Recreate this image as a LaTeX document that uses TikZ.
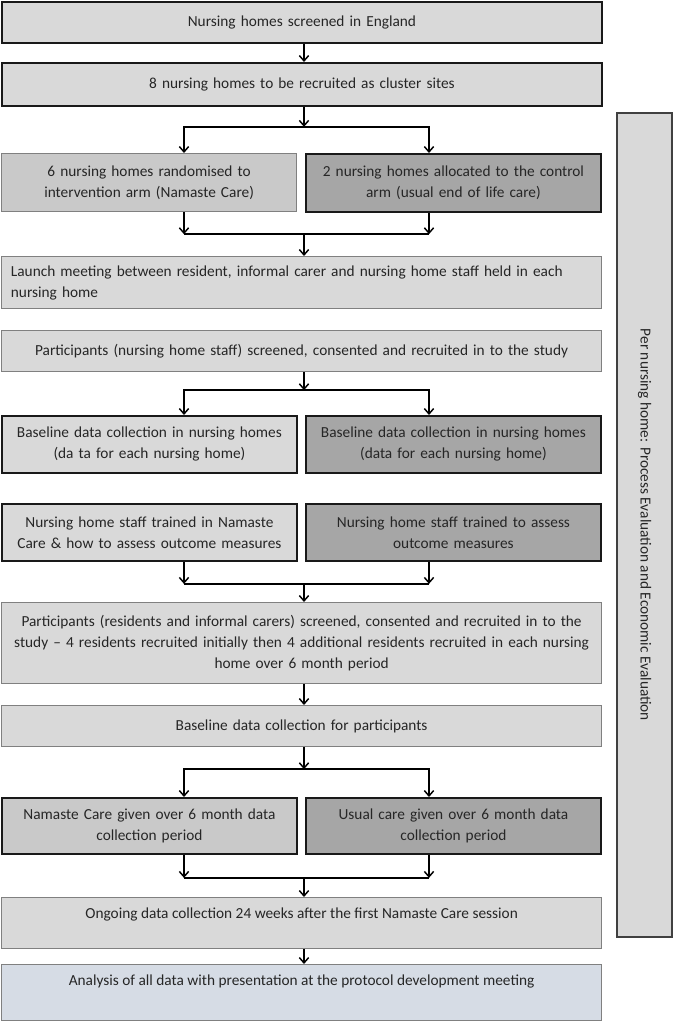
\documentclass[tikz,border=0pt]{standalone}
\usepackage{fontspec}
\setmainfont{Carlito}
\usetikzlibrary{arrows.meta}
\definecolor{LightClr}{HTML}{D9D9D9}
\definecolor{MidClr}{HTML}{C9C9C9}
\definecolor{DarkClr}{HTML}{A6A6A6}
\definecolor{BlueClr}{HTML}{D6DCE5}
\definecolor{EdgeClr}{HTML}{808080}
\definecolor{TextClr}{HTML}{262626}

\begin{document}
\begin{tikzpicture}[x=0.75pt,y=-0.75pt,
  every node/.style={font=\fontsize{11.5}{15.75}\selectfont,text=TextClr},
  box/.style={draw=EdgeClr,line width=0.9pt,fill=LightClr,anchor=north west,inner xsep=2pt,align=center},
  full/.style={box,minimum width=450pt,text width=444pt},
  half/.style={box,minimum width=221.25pt,text width=215pt},
  bold/.style={draw=black!90,line width=1.4pt},
  arr/.style={line width=1.1pt,-{Straight Barb[length=4pt,width=7pt]}},
  link/.style={line width=1.1pt}]
\useasboundingbox (0,0) rectangle (674,1023);

\coordinate (colL) at (184,0);
\coordinate (colM) at (304,0);
\coordinate (colR) at (429,0);

\node[full,bold,minimum height=30.75pt] (screen) at (1,1) {Nursing homes screened in England};
\node[full,bold,minimum height=32.25pt] (recruit) at (1,62) {8 nursing homes to be recruited as cluster sites};

\node[half,fill=MidClr,minimum height=43.5pt] (randL) at (1,153) {6 nursing homes randomised to\\intervention arm (Namaste Care)};
\node[half,bold,fill=DarkClr,minimum height=43.5pt] (randR) at (305,153) {2 nursing homes allocated to the control\\arm (usual end of life care)};

\node[full,text width=436pt,align=left,minimum height=39pt] (launch) at (1,256) {Launch meeting between resident, informal carer and nursing home staff held in each\\nursing home};
\node[full,minimum height=30.75pt] (staff) at (1,330) {Participants (nursing home staff) screened, consented and recruited in to the study};

\node[half,bold,minimum height=42.75pt] (baseL) at (1,415) {Baseline data collection in nursing homes\\(da ta for each nursing home)};
\node[half,bold,fill=DarkClr,minimum height=42.75pt] (baseR) at (305,415) {Baseline data collection in nursing homes\\(data for each nursing home)};

\node[half,bold,minimum height=42.75pt] (trainL) at (1,503) {Nursing home staff trained in Namaste\\Care \& how to assess outcome measures};
\node[half,bold,fill=DarkClr,minimum height=42.75pt] (trainR) at (305,503) {Nursing home staff trained to assess\\outcome measures};

\node[full,minimum height=60.75pt] (partic) at (1,602) {Participants (residents and informal carers) screened, consented and recruited in to the\\study -- 4 residents recruited initially then 4 additional residents recruited in each nursing\\home over 6 month period};
\node[full,minimum height=30.75pt] (basepart) at (1,705) {Baseline data collection for participants};

\node[half,bold,fill=MidClr,minimum height=42pt] (careL) at (1,797) {Namaste Care given over 6 month data\\collection period};
\node[half,bold,fill=DarkClr,minimum height=42pt] (careR) at (305,797) {Usual care given over 6 month data\\collection period};

\node[box,minimum width=450pt,text height=11.75pt,text depth=18.25pt,inner ysep=4pt] (ongoing) at (1,897) {Ongoing data collection 24 weeks after the first Namaste Care session};
\node[box,fill=BlueClr,minimum width=450pt,text height=11.75pt,text depth=22.25pt,inner ysep=4pt] (analysis) at (1,964) {Analysis of all data with presentation at the protocol development meeting};

\node[box,anchor=center,rotate=-90,draw=black!75,line width=1.1pt,minimum width=618pt,minimum height=41.25pt] (side) at (644.5,525) {Per nursing home: Process Evaluation and Economic Evaluation};

\draw[arr] (screen.south -| colM) -- (recruit.north -| colM);

\draw[arr] (recruit.south -| colM) -- ++(0,20) coordinate (s1);
\draw[arr] (s1) -| (randL.north -| colL);
\draw[arr] (s1) -| (randR.north -| colR);

\draw[arr] (randL.south -| colL) -- ++(0,22) coordinate (m1);
\draw[arr] (randR.south -| colR) -- (m1 -| colR);
\draw[link] (m1) -- (m1 -| colR);
\draw[arr] (m1 -| colM) -- (launch.north -| colM);

\draw[arr] (staff.south -| colM) -- ++(0,18) coordinate (s2);
\draw[arr] (s2) -| (baseL.north -| colL);
\draw[arr] (s2) -| (baseR.north -| colR);

\draw[arr] (trainL.south -| colL) -- ++(0,22) coordinate (m2);
\draw[arr] (trainR.south -| colR) -- (m2 -| colR);
\draw[link] (m2) -- (m2 -| colR);
\draw[arr] (m2 -| colM) -- (partic.north -| colM);

\draw[arr] (partic.south -| colM) -- (basepart.north -| colM);

\draw[arr] (basepart.south -| colM) -- ++(0,22) coordinate (s3);
\draw[arr] (s3) -| (careL.north -| colL);
\draw[arr] (s3) -| (careR.north -| colR);

\draw[arr] (careL.south -| colL) -- ++(0,23) coordinate (m3);
\draw[arr] (careR.south -| colR) -- (m3 -| colR);
\draw[link] (m3) -- (m3 -| colR);
\draw[arr] (m3 -| colM) -- (ongoing.north -| colM);

\draw[arr] (ongoing.south -| colM) -- (analysis.north -| colM);
\end{tikzpicture}
\end{document}
